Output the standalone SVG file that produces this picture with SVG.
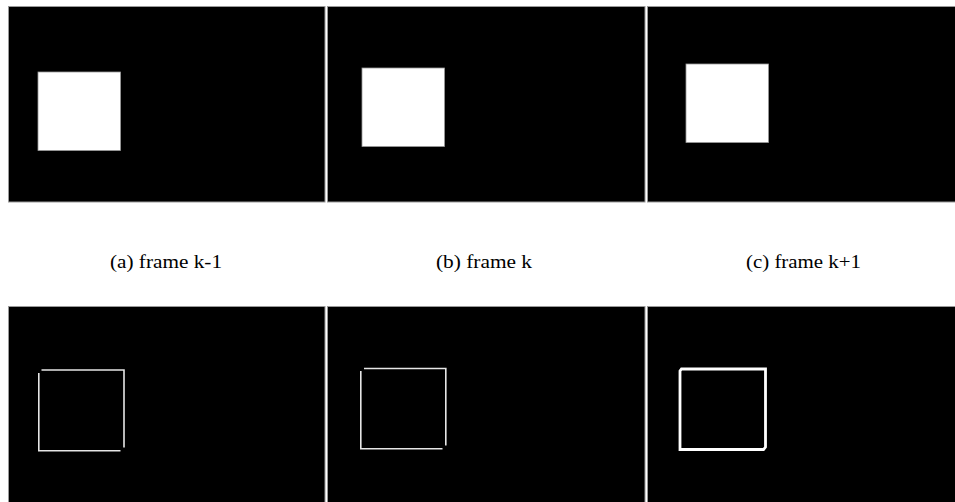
<svg xmlns="http://www.w3.org/2000/svg" width="955" height="502" viewBox="0 0 955 502">
<style>
.frame{fill:#000;stroke:#9a9a9a;stroke-width:1}
.blob{fill:#fff;stroke:#9a9a9a;stroke-width:0.8}
.edge{fill:none;stroke:#e6e6e6;stroke-width:1.6;stroke-linecap:butt}
.edge3{fill:none;stroke:#fff;stroke-width:2.8;stroke-linejoin:miter}
.cap{font-family:"Liberation Serif","Times New Roman",serif;font-size:19px;fill:#000}
</style>
<rect width="955" height="502" fill="#fff"/>
<g id="frame-a">
<rect class="frame" x="8.5" y="6.5" width="316.5" height="195.5"/>
<rect class="blob" x="38" y="72" width="82.5" height="78.5"/>
</g>
<g id="frame-b">
<rect class="frame" x="327.5" y="6.5" width="317.5" height="195.5"/>
<rect class="blob" x="362" y="68" width="82.5" height="78.5"/>
</g>
<g id="frame-c">
<rect class="frame" x="647.5" y="6.5" width="310" height="195.5"/>
<rect class="blob" x="686" y="64" width="82.5" height="78.5"/>
</g>
<text class="cap" x="110" y="267.5" textLength="112" lengthAdjust="spacingAndGlyphs">(a) frame k-1</text>
<text class="cap" x="436" y="267.5" textLength="96" lengthAdjust="spacingAndGlyphs">(b) frame k</text>
<text class="cap" x="746" y="267.5" textLength="115" lengthAdjust="spacingAndGlyphs">(c) frame k+1</text>
<g id="edges-a">
<rect class="frame" x="8.5" y="306.5" width="316.5" height="200"/>
<path class="edge" d="M41.5 370H124M124 369.2V447.5M38 450.8H120.5M38.8 373V451.6"/>
</g>
<g id="edges-b">
<rect class="frame" x="327.5" y="306.5" width="317.5" height="200"/>
<path class="edge" d="M364 368.5H446.5M445.8 367.7V445.5M360 448.8H442.5M360.8 371V449.6"/>
</g>
<g id="edges-c">
<rect class="frame" x="647.5" y="306.5" width="310" height="200"/>
<path class="edge3" d="M681.5 369H765.5V447L763.5 449.5H680V371Z"/>
</g>
</svg>
